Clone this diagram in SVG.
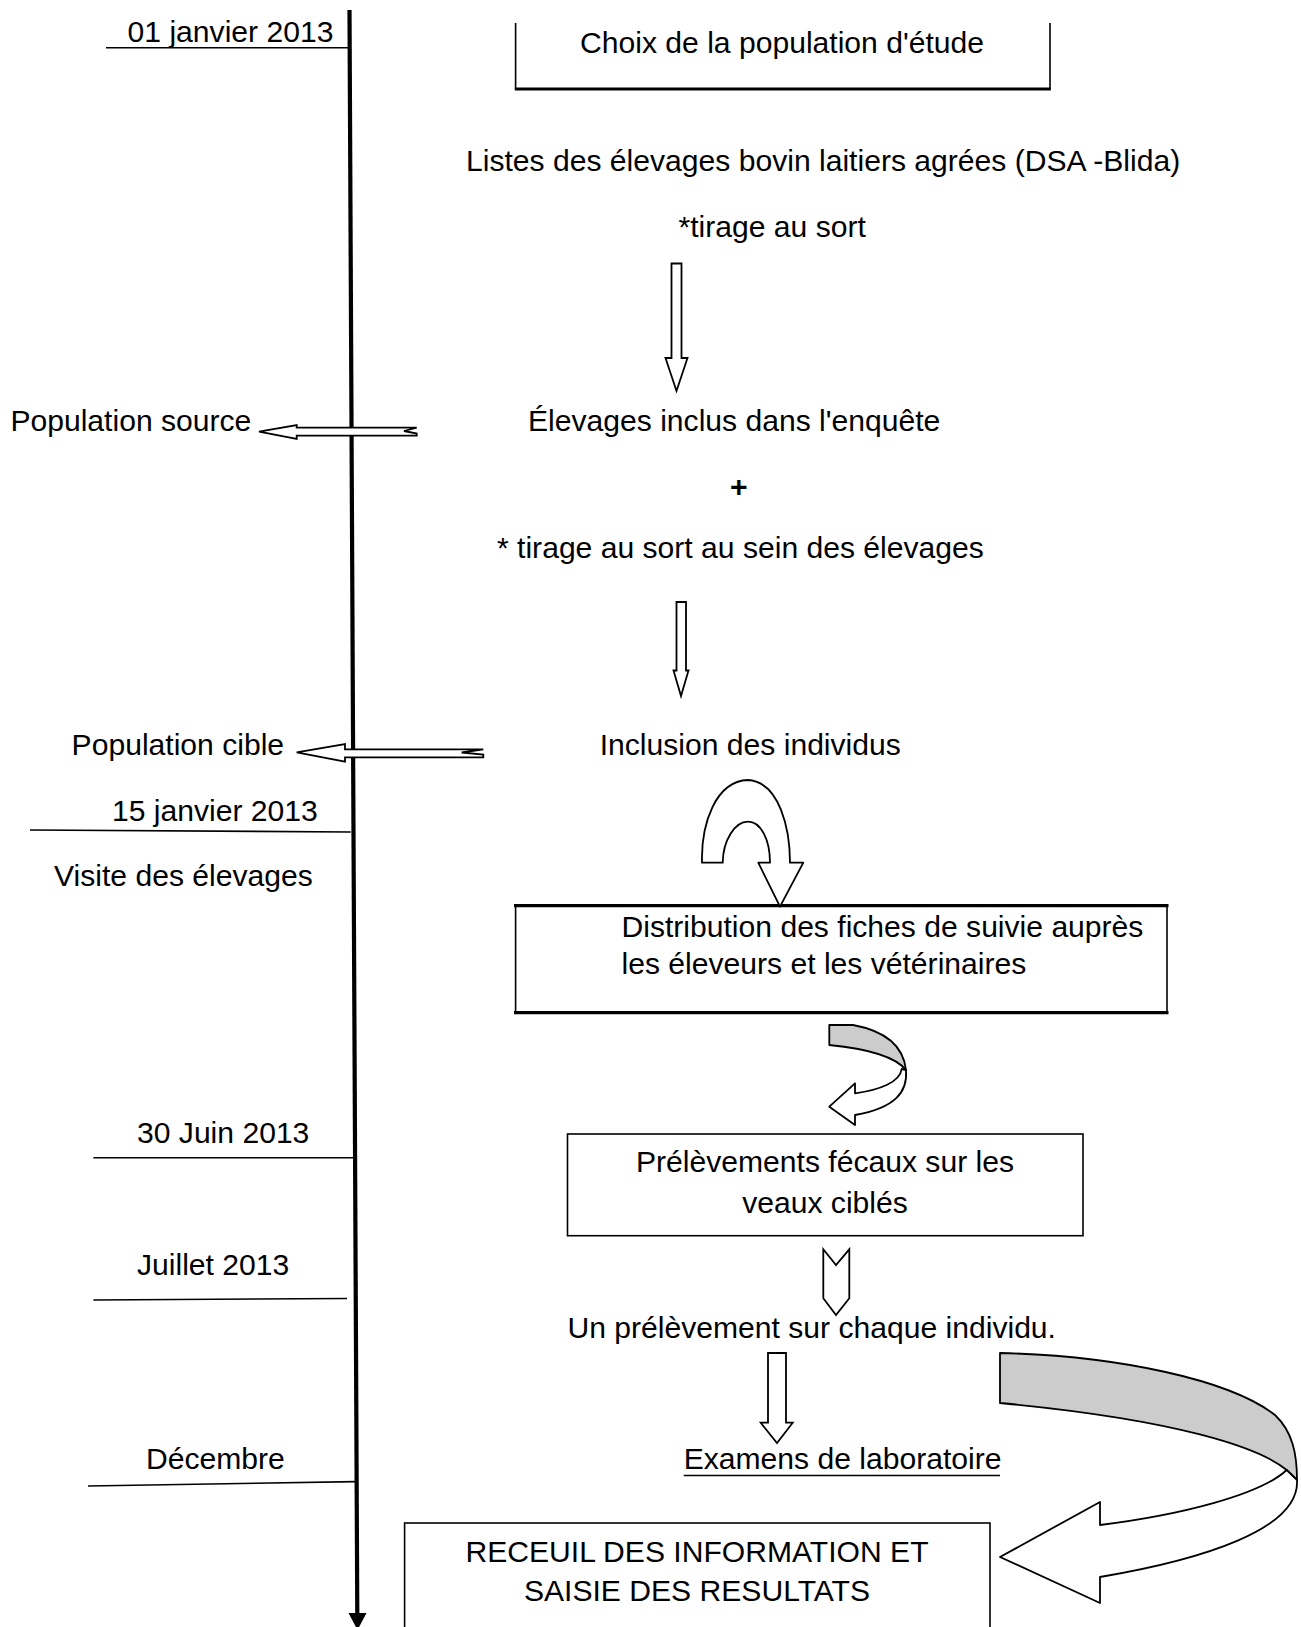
<svg xmlns="http://www.w3.org/2000/svg" width="1301" height="1627" viewBox="0 0 1301 1627">
<style>
text{font-family:"Liberation Sans",Arial,sans-serif;font-size:30.1px;fill:#000}
.ln{stroke:#000;stroke-width:1.6;fill:none}
.thick{stroke:#000;stroke-width:3.2;fill:none}
.box{stroke:#000;stroke-width:1.6;fill:#fff}
.arw{stroke:#000;stroke-width:1.8;fill:#fff;stroke-linejoin:miter}
.gray{stroke:#000;stroke-width:1.8;fill:#cccccc;stroke-linejoin:round}
.wh{stroke:#000;stroke-width:1.8;fill:#fff;stroke-linejoin:round}
.mid{text-anchor:middle}
</style>
<rect width="1301" height="1627" fill="#fff"/>

<g id="timeline">
<line x1="349.5" y1="10" x2="357.3" y2="1616" stroke="#000" stroke-width="4.2"/>
<polygon points="348.5,1613 366.5,1613 357.5,1630" fill="#000"/>
</g>

<g id="dates">
<g id="d1"><line class="ln" x1="106" y1="47.7" x2="350" y2="47.7"/><text x="127.6" y="42">01 janvier 2013</text></g>
<g id="d2"><line class="ln" x1="30" y1="830" x2="350.7" y2="832"/><text x="112" y="821">15 janvier 2013</text><text x="54" y="886">Visite des élevages</text></g>
<g id="d3"><line class="ln" x1="93.4" y1="1157.8" x2="354.8" y2="1157.8"/><text x="137" y="1143">30 Juin 2013</text></g>
<g id="d4"><line class="ln" x1="93.4" y1="1300" x2="347" y2="1298.5"/><text x="137" y="1275">Juillet 2013</text></g>
<g id="d5"><line class="ln" x1="88" y1="1486" x2="356" y2="1481.6"/><text x="146" y="1469">Décembre</text></g>
</g>

<g id="n-choix">
<path class="ln" d="M515.6,23 V89 M1050,23 V89"/>
<line class="thick" x1="514.8" y1="89" x2="1050.8" y2="89"/>
<text class="mid" x="782" y="53">Choix de la population d'étude</text>
</g>

<g id="n-listes">
<text x="466" y="171">Listes des élevages bovin laitiers agrées (DSA -Blida)</text>
<text x="678.5" y="236.5">*tirage au sort</text>
</g>

<g id="n-elevages">
<text x="528" y="431">Élevages inclus dans l'enquête</text>
<text class="mid" x="738.7" y="497" font-weight="bold">+</text>
<text x="497" y="558">* tirage au sort au sein des élevages</text>
</g>

<g id="n-popsource"><text x="10.4" y="431">Population source</text></g>
<g id="n-popcible"><text x="71.6" y="755">Population cible</text></g>
<g id="n-inclusion"><text x="599.7" y="755">Inclusion des individus</text></g>

<g id="n-distribution">
<rect class="box" x="515.6" y="905.7" width="651.4" height="106.9"/>
<path class="thick" d="M514,905.7 H1168.5 M514,1012.6 H1168.5"/>
<text x="621.5" y="937">Distribution des fiches de suivie auprès</text>
<text x="621.5" y="974">les éleveurs et les vétérinaires</text>
</g>

<g id="n-prelevements">
<rect class="box" x="567.5" y="1134" width="515.5" height="101.7"/>
<text class="mid" x="825" y="1172">Prélèvements fécaux sur les</text>
<text class="mid" x="825" y="1213">veaux ciblés</text>
</g>

<g id="n-unprelevement"><text x="567.5" y="1338">Un prélèvement sur chaque individu.</text></g>

<g id="n-examens">
<text x="683.7" y="1469">Examens de laboratoire</text>
<line class="ln" x1="683.7" y1="1475.5" x2="1000" y2="1475.5"/>
</g>

<g id="n-receuil">
<rect class="box" x="404.6" y="1523" width="585.4" height="120"/>
<text class="mid" x="697" y="1561.5">RECEUIL DES INFORMATION ET</text>
<text class="mid" x="697" y="1601">SAISIE DES RESULTATS</text>
</g>

<g id="connectors">
<polygon class="arw" points="671.5,263.5 681.5,263.5 681.5,358 687.5,358 676.5,391 665.5,358 671.5,358"/>
<polygon class="arw" points="676.5,602 686,602 686,670.5 688.5,670.5 681,696 673.5,670.5 676.5,670.5"/>
<polygon class="arw" points="259,431.7 296.7,425 296.7,427.7 416.7,427.7 404,431 416.7,433.5 416.7,435.7 296.7,435.7 296.7,439"/>
<polygon class="arw" points="296.7,752.3 345,744 345,749.3 483.3,749.3 461.7,752.5 483.3,754.5 483.3,757.3 345,757.3 345,761.7"/>
<path class="wh" d="M702,862.7 C701,825 715,781 748,780 C780,782 790,830 790,862.7 L803.3,862.7 L780,906.7 L758.3,862.7 L770,862.7 C770,840 761,821.7 748,821.7 C735,821.7 723,840 722.7,862.7 Z"/>
<path class="gray" d="M829.3,1025 L853,1025 C880,1030 903,1042 906,1070 C898,1060 880,1050 829.3,1045 Z"/>
<path class="wh" d="M906,1070 C908,1092 895,1108 855,1115 L855,1125 L829.3,1106.7 L855,1083.3 L855,1093.3 C880,1090 900,1082 901.7,1069 Z"/>
<polygon class="arw" points="823.3,1249.3 836,1265 849.3,1249.3 849.3,1298.3 836,1315 823.3,1298.3"/>
<polygon class="arw" points="768,1353 786,1353 786,1422.7 792.7,1422.7 777,1443 760.7,1422.7 768,1422.7"/>
<path class="gray" d="M1000,1353 C1120,1356 1230,1380 1275,1415 C1293,1432 1297,1455 1297,1480 L1286.7,1470 C1260,1448 1180,1420 1000,1403 Z"/>
<path class="wh" d="M1297,1480 C1300,1530 1200,1560 1100,1577 L1100,1603 L1000,1557 L1100,1502 L1100,1525 C1180,1515 1260,1495 1286.7,1470 Z"/>
</g>
</svg>
